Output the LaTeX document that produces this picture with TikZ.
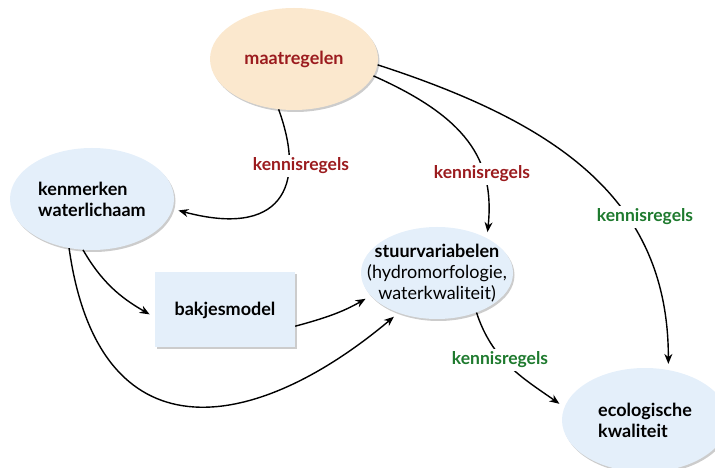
\documentclass[tikz,border=0pt]{standalone}
\usepackage{fontspec}
\setmainfont{Lato}
\usetikzlibrary{arrows.meta,shapes.geometric,shadows}
\definecolor{peach}{RGB}{251,232,206}
\definecolor{paleblue}{RGB}{228,239,250}
\definecolor{rulered}{RGB}{155,27,30}
\definecolor{rulegreen}{RGB}{30,122,46}

\begin{document}
\begin{tikzpicture}[x=1pt, y=1pt,
    oval/.style={ellipse, inner sep=0pt, inner xsep=-10pt, align=left, font=\fontsize{18}{21}\selectfont,
        drop shadow={shadow xshift=1.5pt, shadow yshift=-2pt, fill=black!40}},
    box/.style={rectangle, minimum width=140pt, minimum height=75pt, fill=paleblue,
        font=\fontsize{18}{21}\selectfont\bfseries,
        drop shadow={shadow xshift=2pt, shadow yshift=-2pt, fill=black!40}},
    rule/.style={fill=white, inner sep=3pt, font=\fontsize{17.5}{20}\selectfont\bfseries},
    arr/.style={-{Stealth[length=10pt,width=8pt]}, line width=1.4pt, shorten >=6pt}
]
\useasboundingbox (0,0) rectangle (715,468);

% knopen
\node[oval, fill=peach, minimum width=168pt, minimum height=102pt, text=rulered] (maat) at (294,409) {\textbf{maatregelen}};
\node[oval, fill=paleblue, minimum width=164pt, minimum height=102pt] (kenm) at (92,269) {\textbf{kenmerken}\\\textbf{waterlichaam}};
\node[box] (bakjes) at (225,158) {bakjesmodel};
\node[oval, fill=paleblue, minimum width=152pt, minimum height=92pt, inner xsep=-22pt, align=center] (stuur) at (437,195)
    {\textbf{stuurvariabelen}\\(hydromorfologie,\\waterkwaliteit)};
\node[oval, fill=paleblue, minimum width=166pt, minimum height=104pt] (eco) at (645,48) {\textbf{ecologische}\\\textbf{kwaliteit}};

% pijlen
\draw[arr] (maat.-107) to[out=-70, in=-15, out distance=85pt, in distance=110pt] (kenm.-7);
\draw[arr] (maat.-12) to[out=-24, in=84, out distance=100pt, in distance=80pt] (stuur.35);
\draw[arr] (maat.-4) to[out=-18, in=90, out distance=190pt, in distance=170pt] (eco.65);
\draw[arr] (kenm.-100) to[out=-60, in=150] (bakjes.-174);
\draw[arr] (kenm.-115) to[out=-82, in=-140, out distance=212pt, in distance=192pt] (stuur.-134);
\draw[arr] (bakjes.-13) to[out=15, in=-150] (stuur.-161);
\draw[arr] (stuur.-45) to[out=-72, in=145] (eco.171);

% kennisregels
\node[rule, text=rulered] (r1) at (301,302) {kennisregels};
\node[rule, text=rulered] (r2) at (482,294) {kennisregels};
\node[rule, text=rulegreen] (r3) at (645,251) {kennisregels};
\node[rule, text=rulegreen] (r4) at (500,108) {kennisregels};
\end{tikzpicture}
\end{document}
